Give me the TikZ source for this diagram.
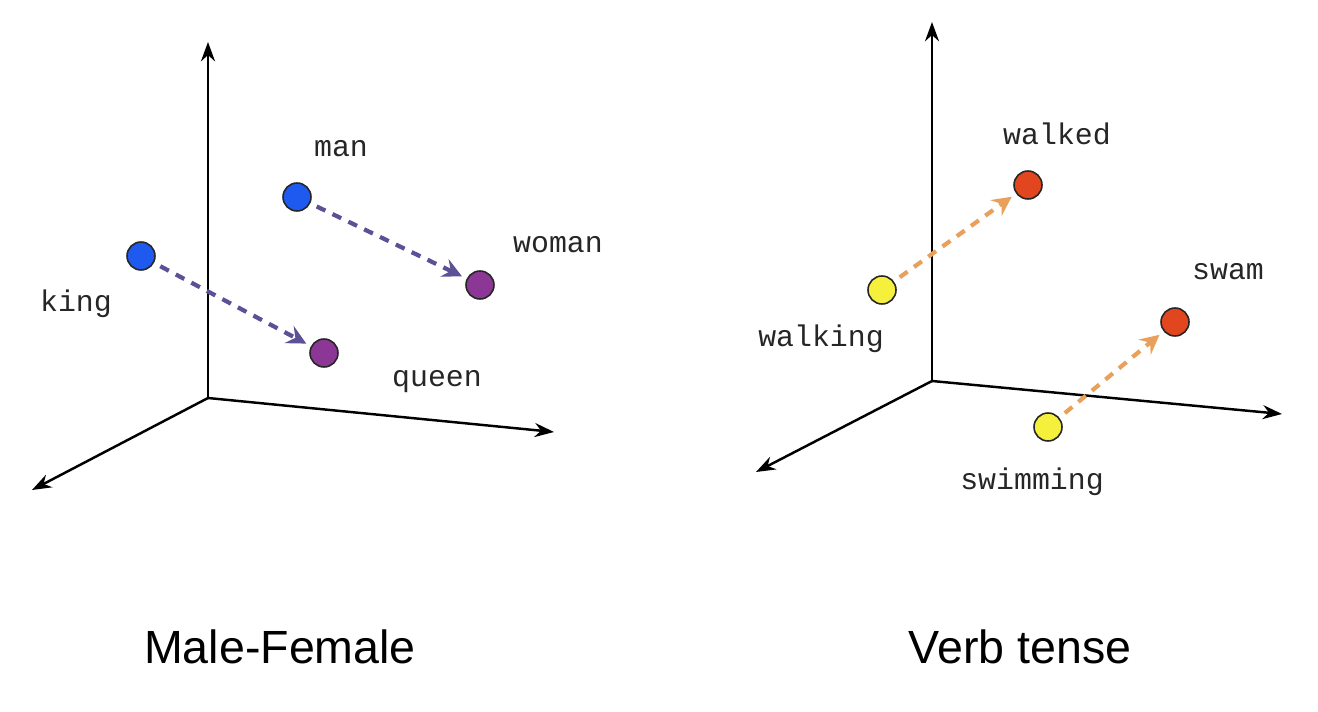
\documentclass[tikz,border=0pt]{standalone}
\usepackage{fontspec}
\setmainfont{Liberation Sans}
\newfontfamily\wordfont{Liberation Mono}
\usetikzlibrary{arrows.meta}

\definecolor{manblue}{RGB}{30,90,240}
\definecolor{queenpurple}{RGB}{140,55,150}
\definecolor{ingyellow}{RGB}{245,240,60}
\definecolor{edred}{RGB}{225,70,30}
\definecolor{mfarrow}{RGB}{92,80,150}
\definecolor{vtarrow}{RGB}{232,160,90}

\tikzset{
  dot/.style={circle, draw=black!85, line width=0.9pt, minimum size=0.56cm, inner sep=0pt},
  word/.style={anchor=base, inner sep=0pt, text=black!85, font=\wordfont\fontsize{17}{20}\selectfont},
  title/.style={anchor=base, inner sep=0pt, font=\fontsize{26.5}{30}\selectfont},
  axis/.style={line width=1.4pt, -{Stealth[length=11pt, width=8pt]}},
  offsetarrow/.style={line width=2.4pt, dash pattern=on 5.5pt off 4.5pt, shorten <=4pt, shorten >=3pt, -{Stealth[length=11pt, width=11pt, inset=4pt]}}
}

\begin{document}
\begin{tikzpicture}[x=0.02cm, y=-0.02cm]
\useasboundingbox (0,0) rectangle (1318,712);

% Male-Female
\coordinate (o1) at (208,398);
\coordinate (up1) at (208,42);
\coordinate (rt1) at (554,432);
\coordinate (lf1) at (32,490);
\draw[axis] (o1) -- (up1);
\draw[axis] (o1) -- (rt1);
\draw[axis] (o1) -- (lf1);

\node[dot, fill=manblue] (man) at (297,197) {};
\node[dot, fill=manblue] (king) at (141,256) {};
\node[dot, fill=queenpurple] (woman) at (480,285) {};
\node[dot, fill=queenpurple] (queen) at (324,353) {};

\node[word] (manl) at (341,157) {man};
\node[word] (womanl) at (558,253) {woman};
\node[word] (kingl) at (76,312) {king};
\node[word] (queenl) at (437,387) {queen};

\draw[offsetarrow, mfarrow] (man) -- (woman);
\draw[offsetarrow, mfarrow] (king) -- (queen);

\node[title] (mf) at (280,663) {Male-Female};

% Verb tense
\coordinate (o2) at (932,381);
\coordinate (up2) at (932,22);
\coordinate (rt2) at (1282,414);
\coordinate (lf2) at (756,472);
\draw[axis] (o2) -- (up2);
\draw[axis] (o2) -- (rt2);
\draw[axis] (o2) -- (lf2);

\node[dot, fill=ingyellow] (walking) at (882,290) {};
\node[dot, fill=edred] (walked) at (1028,185) {};
\node[dot, fill=ingyellow] (swimming) at (1048,427) {};
\node[dot, fill=edred] (swam) at (1175,322) {};

\node[word] (walkedl) at (1057,145) {walked};
\node[word] (walkingl) at (821,347) {walking};
\node[word] (swaml) at (1228,280) {swam};
\node[word] (swimmingl) at (1032,490) {swimming};

\draw[offsetarrow, vtarrow] (walking) -- (walked);
\draw[offsetarrow, vtarrow] (swimming) -- (swam);

\node[title] (vt) at (1020,663) {Verb tense};
\end{tikzpicture}
\end{document}
